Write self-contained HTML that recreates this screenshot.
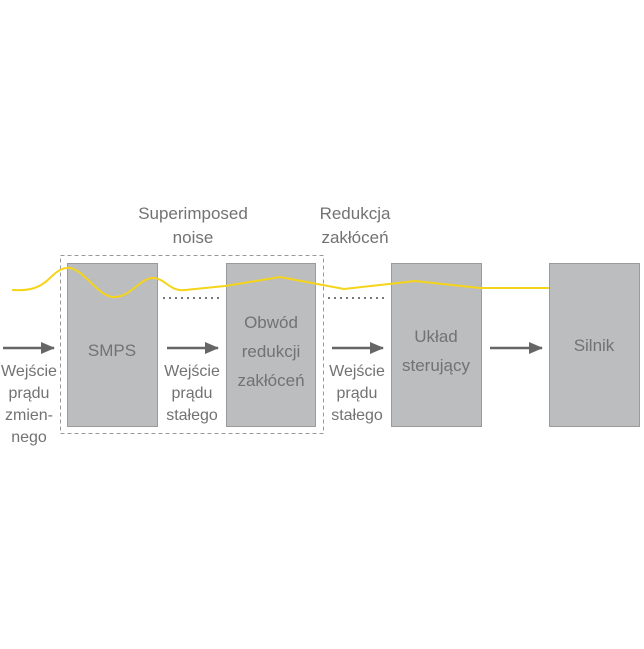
<!DOCTYPE html>
<html><head><meta charset="utf-8"><style>
body{margin:0;background:#fff}
svg text{font-family:"Liberation Sans",sans-serif;font-size:17px;fill:#727272;text-anchor:middle}
.s{font-size:16px}
</style></head><body>
<svg width="644" height="644" viewBox="0 0 644 644" xmlns="http://www.w3.org/2000/svg">
<defs><marker id="b" markerWidth="14" markerHeight="12" refX="13" refY="6" orient="auto" markerUnits="userSpaceOnUse"><path d="M0,0 L14,6 L0,12 Z" fill="#666"/></marker></defs>
<rect x="60.5" y="255.5" width="263" height="178" fill="none" stroke="#999" stroke-dasharray="4,3"/>
<g fill="#bcbdbf" stroke="#9a9a9a"><rect x="67.5" y="263.5" width="90" height="163"/><rect x="226.5" y="263.5" width="89" height="163"/><rect x="391.5" y="263.5" width="90" height="163"/><rect x="549.5" y="263.5" width="90" height="163"/></g>
<path d="M12,290 C30,291 40,288 50,278 C58,270 64,267 70,268 C84,270 98,296 113,297 C130,298 140,278 153,278 C165,278 170,292 185,290 L225,286 L280,277 L344,289 L415,281 L480,288 L549,288" fill="none" stroke="#f5d419" stroke-width="2"/>
<g stroke="#777" stroke-width="2" stroke-dasharray="2,4"><line x1="163" y1="298" x2="222" y2="298"/><line x1="328" y1="298" x2="388" y2="298"/></g>
<g stroke="#666" stroke-width="2.5" marker-end="url(#b)"><line x1="3" y1="348" x2="54" y2="348"/><line x1="167" y1="348" x2="218" y2="348"/><line x1="332" y1="348" x2="383" y2="348"/><line x1="490" y1="348" x2="542" y2="348"/></g>
<text x="193" y="219">Superimposed</text><text x="193" y="243">noise</text>
<text x="355" y="219">Redukcja</text><text x="355" y="243">zakłóceń</text>
<text x="112" y="356" font-size="18">SMPS</text>
<text x="271" y="328" font-size="18">Obwód</text><text x="271" y="357" font-size="18">redukcji</text><text x="271" y="386" font-size="18">zakłóceń</text>
<text x="436" y="342" font-size="18">Układ</text><text x="436" y="371" font-size="18">sterujący</text>
<text x="594" y="351" font-size="18">Silnik</text>
<g class="s">
<text class="s" x="29" y="376" textLength="56" lengthAdjust="spacingAndGlyphs">Wejście</text><text class="s" x="29" y="398">prądu</text><text class="s" x="29" y="420">zmien-</text><text class="s" x="29" y="442">nego</text>
<text class="s" x="192" y="376">Wejście</text><text class="s" x="192" y="398">prądu</text><text class="s" x="192" y="420">stałego</text>
<text class="s" x="357" y="376">Wejście</text><text class="s" x="357" y="398">prądu</text><text class="s" x="357" y="420">stałego</text>
</g>
</svg>
</body></html>
